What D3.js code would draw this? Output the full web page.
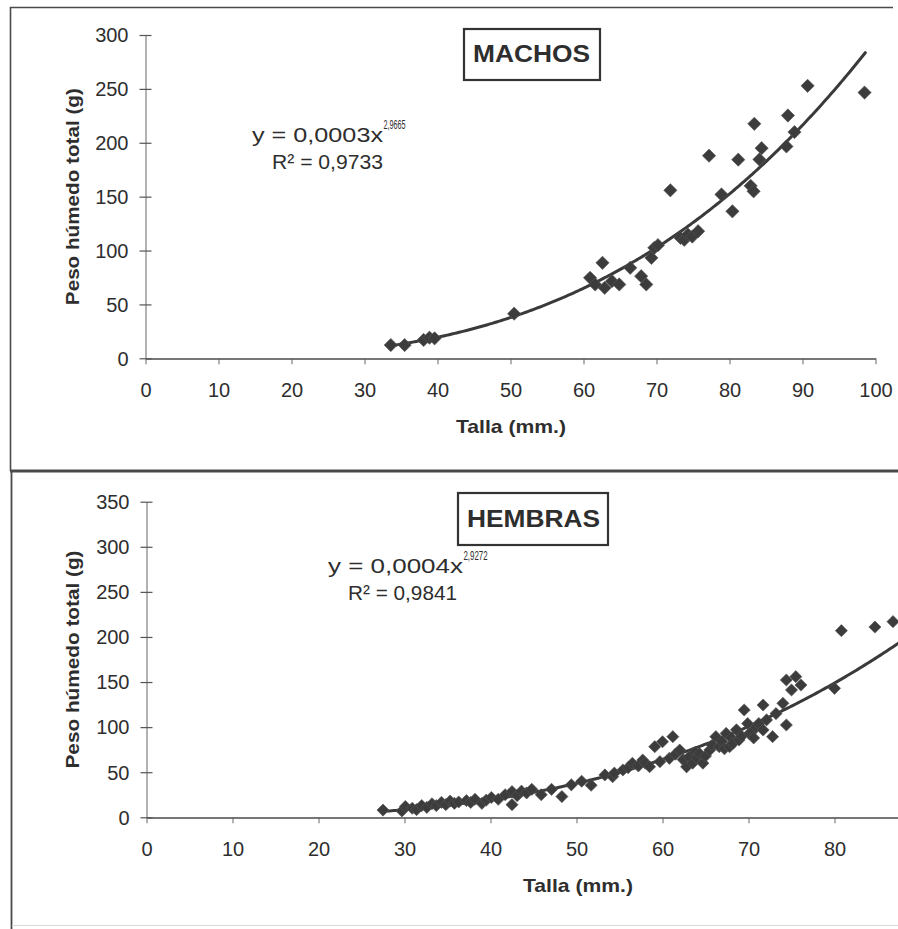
<!DOCTYPE html>
<html><head><meta charset="utf-8">
<script src="https://cdn.jsdelivr.net/npm/d3@7"></script>
<style>
html,body{margin:0;padding:0;background:#fff;}
svg{display:block;}
text{font-family:"Liberation Sans",Arial,sans-serif;}
</style></head><body>
<svg id="chart" width="898" height="929"></svg>
<script>
// ---------- DATA ----------
const machosTalla = [33.6, 35.5, 38.1, 38.9, 39.6, 50.5, 60.9, 61.6, 62.6, 62.9, 63.9, 64.9,
  66.4, 67.9, 68.6, 69.3, 69.7, 70.2, 71.9, 73.3, 73.8, 74.3, 74.9, 75.7,
  77.2, 78.9, 80.4, 81.2, 82.9, 83.3, 83.4, 84.1, 84.4, 87.8, 88.0, 88.9, 90.7, 98.5];
const machosPeso = [12.3, 12.3, 17.0, 19.1, 18.5, 41.4, 74.7, 68.5, 88.6, 65.4, 71.6, 68.5,
  84.0, 76.2, 68.5, 93.2, 102.5, 105.0, 155.9, 111.7, 110.0, 114.8, 113.0, 117.9,
  188.0, 152.0, 136.4, 184.3, 160.0, 155.0, 217.6, 184.5, 195.0, 196.6, 225.3, 209.9, 252.8, 246.6];

const hembrasTalla = [27.5, 29.7, 30.1, 30.9, 31.4, 32.0, 32.6, 33.2, 33.7, 34.3, 34.8, 35.3,
  35.8, 36.3, 37.2, 37.7, 38.2, 39.0, 39.5, 40.1, 40.9, 41.7, 42.5, 42.5, 43.1, 43.6, 44.2,
  44.8, 45.9, 47.1, 48.3, 49.4, 50.6, 51.7, 53.3, 54.2, 54.4, 55.4, 56.0, 56.5, 57.2, 57.7,
  58.0, 58.5, 59.1, 59.7, 60.0, 60.8, 61.2, 61.5, 62.0, 62.4, 62.8, 63.1, 63.5, 63.8, 64.0,
  64.3, 64.7, 65.0, 65.5, 65.8, 66.2, 66.6, 66.9, 67.2, 67.4, 67.8, 68.0, 68.2, 68.6, 68.9,
  69.2, 69.5, 69.9, 70.1, 70.4, 70.6, 70.9, 71.2, 71.7, 71.7, 72.1, 72.8, 73.2, 74.0, 74.4,
  74.4, 75.0, 75.5, 76.1, 80.0, 80.8, 84.7, 86.8];
const hembrasPeso = [8, 7, 12, 10, 8.5, 13, 11, 15, 13, 16.5, 14, 18,
  15.5, 17, 18.5, 16.5, 20, 15.5, 19, 22, 20, 25, 28.5, 14, 24, 29, 27,
  31, 25, 31, 23, 36, 40, 35.5, 47, 45, 49, 52.5, 55, 59.9, 57, 63.5,
  60, 56.1, 78.3, 61.7, 83.8, 65.4, 89.4, 70, 74.6, 64, 56, 67, 60, 72, 66,
  70.6, 60, 68, 74.6, 80, 89.4, 78.3, 84, 76, 93, 78.3, 88, 82, 97, 85.7,
  90, 119, 104, 93, 95, 88, 100.5, 104, 124.5, 96.8, 108, 89.4, 115, 126.4, 102.4,
  152.3, 141.2, 156, 146.7, 143, 207, 211, 217];

const xTicksMachos = [0, 10, 20, 30, 40, 50, 60, 70, 80, 90, 100];
const yTicksMachos = [0, 50, 100, 150, 200, 250, 300];
const xTicksHembras = [0, 10, 20, 30, 40, 50, 60, 70, 80];
const yTicksHembras = [0, 50, 100, 150, 200, 250, 300, 350];

// trend lines (power fits shown on the chart)
const fitMachosA = 0.000345, fitMachosB = 2.9665;
const fitHembrasA = 0.0004, fitHembrasB = 2.9272;

const titleMachos = "MACHOS", titleHembras = "HEMBRAS";
const eqMachos = ["y = 0,0003x", "2,9665", "R² = 0,9733"];
const eqHembras = ["y = 0,0004x", "2,9272", "R² = 0,9841"];
const xTitle = "Talla (mm.)";
const yTitle = "Peso húmedo total (g)";

// ---------- DRAWING ----------
const svg = d3.select("#chart");
const INK = "#2e2e2e", MARK = "#3c3c3c";

// frames
svg.append("line").attr("x1", 10).attr("x2", 893).attr("y1", 7.5).attr("y2", 7.5)
  .attr("stroke", "#4a4a4a").attr("stroke-width", 1.6);
svg.append("line").attr("x1", 10.5).attr("x2", 10.5).attr("y1", 7).attr("y2", 471)
  .attr("stroke", "#4a4a4a").attr("stroke-width", 1.6);
svg.append("line").attr("x1", 10).attr("x2", 898).attr("y1", 471).attr("y2", 471)
  .attr("stroke", "#4a4a4a").attr("stroke-width", 3);
svg.append("line").attr("x1", 11.5).attr("x2", 11.5).attr("y1", 471).attr("y2", 929)
  .attr("stroke", "#4a4a4a").attr("stroke-width", 1.8);
svg.append("line").attr("x1", 12).attr("x2", 898).attr("y1", 925.5).attr("y2", 925.5)
  .attr("stroke", "#d8d8d8").attr("stroke-width", 1);

function panel(cfg) {
  const g = svg.append("g");
  const clipId = "clip" + cfg.id;
  g.append("clipPath").attr("id", clipId).append("rect")
    .attr("x", 0).attr("y", 0).attr("width", cfg.clipRight).attr("height", 929);

  const x = d3.scaleLinear().domain([0, cfg.xMax]).range([cfg.x0, cfg.x1]);
  const y = d3.scaleLinear().domain([0, cfg.yMax]).range([cfg.y0, cfg.y1]);

  // x axis
  const gx = g.append("g").attr("transform", `translate(0,${cfg.y0})`)
    .attr("clip-path", `url(#${clipId})`)
    .call(d3.axisBottom(x).tickValues(cfg.xTicks).tickSize(6).tickSizeOuter(0).tickFormat(d3.format("d")));
  gx.attr("font-size", null).attr("font-family", null);
  gx.select(".domain").attr("stroke", "#4a4a4a").attr("stroke-width", 2);
  gx.selectAll(".tick line").attr("y1", -5).attr("y2", 6).attr("stroke", "#666").attr("stroke-width", 1);
  gx.selectAll(".tick text").attr("y", 39).attr("dy", 0).attr("font-size", 20).attr("fill", INK);

  // y axis
  const gy = g.append("g").attr("transform", `translate(${cfg.x0},0)`)
    .call(d3.axisLeft(y).tickValues(cfg.yTicks).tickSize(6).tickSizeOuter(0).tickPadding(11));
  gy.attr("font-size", null).attr("font-family", null);
  gy.select(".domain").attr("stroke", "#666").attr("stroke-width", 1);
  gy.selectAll(".tick line").attr("x1", -6).attr("x2", 6).attr("stroke", "#555").attr("stroke-width", 1.2);
  gy.selectAll(".tick text").attr("font-size", 20).attr("fill", INK).attr("dy", "0.34em");

  // axis titles
  g.append("text").attr("transform", `translate(${cfg.yTitleX},${(cfg.y0 + cfg.y1) / 2}) rotate(-90)`)
    .attr("text-anchor", "middle").attr("font-weight", "bold").attr("font-size", 19)
    .attr("textLength", cfg.yTitleLen).attr("lengthAdjust", "spacingAndGlyphs")
    .attr("fill", INK).text(yTitle);
  g.append("text").attr("x", cfg.xTitleX).attr("y", cfg.xTitleY)
    .attr("text-anchor", "middle").attr("font-weight", "bold").attr("font-size", 19)
    .attr("textLength", 110).attr("lengthAdjust", "spacingAndGlyphs")
    .attr("fill", INK).text(xTitle);

  // data points + trend
  const plot = g.append("g").attr("clip-path", `url(#${clipId})`);
  const xs = d3.range(cfg.fitFrom, cfg.fitTo + 0.001, 0.25);
  const line = d3.line().x(d => x(d)).y(d => y(cfg.fitA * Math.pow(d, cfg.fitB)));
  plot.append("path").datum(xs).attr("d", line).attr("fill", "none")
    .attr("stroke", "#3a3a3a").attr("stroke-width", 3).attr("stroke-linecap", "round");

  const pts = cfg.tx.map((t, i) => [t, cfg.py[i]]);
  const sym = d3.symbol().type(d3.symbolSquare).size(cfg.markSize);
  plot.selectAll("path.pt").data(pts).join("path").attr("class", "pt")
    .attr("d", sym)
    .attr("transform", d => `translate(${x(d[0])},${y(d[1])}) rotate(45)`)
    .attr("fill", MARK).attr("stroke", "#555").attr("stroke-width", 0.6);

  // title box
  g.append("rect").attr("x", cfg.box[0]).attr("y", cfg.box[1]).attr("width", cfg.box[2]).attr("height", cfg.box[3])
    .attr("fill", "#fff").attr("stroke", "#333").attr("stroke-width", 2.2);
  g.append("text").attr("x", cfg.titleX).attr("y", cfg.titleY).attr("font-weight", "bold").attr("font-size", 23)
    .attr("textLength", cfg.titleLen).attr("lengthAdjust", "spacingAndGlyphs")
    .attr("fill", INK).text(cfg.title);

  // equation
  const e = cfg.eq, p = cfg.eqPos;
  g.append("text").attr("x", p.x).attr("y", p.b1).attr("font-size", 20)
    .attr("textLength", p.w1).attr("lengthAdjust", "spacingAndGlyphs").attr("fill", INK).text(e[0]);
  g.append("text").attr("x", p.x + p.w1 + 0.5).attr("y", p.b1 - 13).attr("font-size", 12)
    .attr("textLength", p.ws).attr("lengthAdjust", "spacingAndGlyphs").attr("fill", INK).text(e[1]);
  g.append("text").attr("x", p.rx).attr("y", p.b1 + 27.5).attr("font-size", 20)
    .attr("textLength", p.w3).attr("lengthAdjust", "spacingAndGlyphs").attr("fill", INK).text(e[2]);
}

panel({
  id: "M", xMax: 100, yMax: 300, x0: 145.5, x1: 875.5, y0: 358.3, y1: 35,
  xTicks: xTicksMachos, yTicks: yTicksMachos, clipRight: 898,
  tx: machosTalla, py: machosPeso, fitA: fitMachosA, fitB: fitMachosB,
  fitFrom: 33.6, fitTo: 98.6, markSize: 88,
  yTitleX: 79, yTitleLen: 217, xTitleX: 511, xTitleY: 433,
  box: [464, 29, 136, 51], title: titleMachos, titleX: 473, titleY: 62, titleLen: 117,
  eq: eqMachos, eqPos: { x: 252, b1: 141.5, w1: 131, ws: 22, rx: 272, w3: 111 }
});

panel({
  id: "H", xMax: 100, yMax: 350, x0: 146.5, x1: 1006.5, y0: 817.3, y1: 501.7,
  xTicks: xTicksHembras, yTicks: yTicksHembras, clipRight: 898,
  tx: hembrasTalla, py: hembrasPeso, fitA: fitHembrasA, fitB: fitHembrasB,
  fitFrom: 27.5, fitTo: 90, markSize: 74,
  yTitleX: 79, yTitleLen: 218, xTitleX: 578, xTitleY: 892,
  box: [458, 493, 150, 52], title: titleHembras, titleX: 467, titleY: 527, titleLen: 133,
  eq: eqHembras, eqPos: { x: 328, b1: 572.5, w1: 135, ws: 24, rx: 348, w3: 109 }
});
</script>
</body></html>
